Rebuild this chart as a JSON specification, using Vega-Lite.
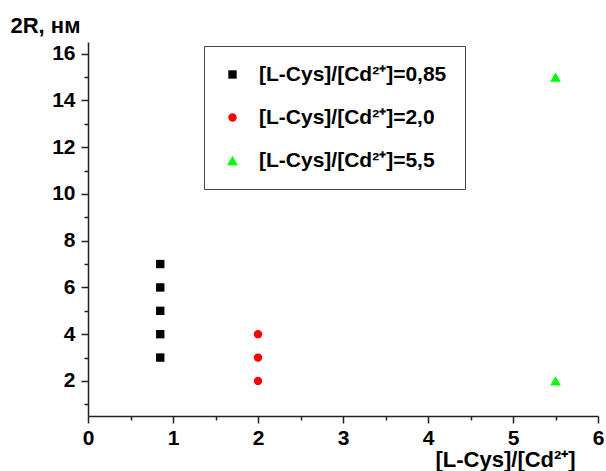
{
  "$schema": "https://vega.github.io/schema/vega-lite/v6.json",
  "autosize": "none",
  "width": 510,
  "height": 374,
  "padding": {"left": 88, "top": 42, "right": 8, "bottom": 55},
  "background": "white",
  "config": {
    "view": {"stroke": null},
    "font": "Liberation Sans",
    "axis": {
      "domainColor": "#222",
      "domainWidth": 1.5,
      "tickColor": "#222",
      "tickWidth": 1.5,
      "grid": false,
      "labelFont": "Liberation Sans",
      "labelFontWeight": "bold",
      "labelFontSize": 21,
      "labelColor": "black",
      "titleFont": "Liberation Sans",
      "titleFontWeight": "bold",
      "titleFontSize": 21,
      "titleColor": "black",
      "labelOverlap": false,
      "labelFlush": false
    }
  },
  "data": {
    "values": [
      {"ratio": 0.85, "d": 3, "series": "0,85"},
      {"ratio": 0.85, "d": 4, "series": "0,85"},
      {"ratio": 0.85, "d": 5, "series": "0,85"},
      {"ratio": 0.85, "d": 6, "series": "0,85"},
      {"ratio": 0.85, "d": 7, "series": "0,85"},
      {"ratio": 2.0, "d": 2, "series": "2,0"},
      {"ratio": 2.0, "d": 3, "series": "2,0"},
      {"ratio": 2.0, "d": 4, "series": "2,0"},
      {"ratio": 5.5, "d": 2, "series": "5,5"},
      {"ratio": 5.5, "d": 15, "series": "5,5"}
    ]
  },
  "mark": {"type": "point", "filled": true, "opacity": 1},
  "encoding": {
    "x": {
      "field": "ratio",
      "type": "quantitative",
      "scale": {"domain": [0, 6], "nice": false, "zero": false},
      "axis": {
        "values": [0, 0.5, 1, 1.5, 2, 2.5, 3, 3.5, 4, 4.5, 5, 5.5, 6],
        "labelExpr": "datum.value % 1 === 0 ? format(datum.value, 'd') : ''",
        "tickSize": {"condition": {"test": "datum.value % 1 !== 0", "value": 4}, "value": 7},
        "labelPadding": 4,
        "title": "[L-Cys]/[Cd²⁺]",
        "titleAnchor": "start",
        "titleAlign": "left",
        "titleX": 347,
        "titleY": 50,
        "titleFontSize": 22,
        "titleBaseline": "alphabetic"
      }
    },
    "y": {
      "field": "d",
      "type": "quantitative",
      "scale": {"domain": [0.5, 16.5], "nice": false, "zero": false},
      "axis": {
        "values": [1, 2, 3, 4, 5, 6, 7, 8, 9, 10, 11, 12, 13, 14, 15, 16],
        "labelExpr": "datum.value % 2 === 0 ? format(datum.value, 'd') : ''",
        "tickSize": {"condition": {"test": "datum.value % 2 !== 0", "value": 4}, "value": 7},
        "labelPadding": 6,
        "title": "2R, нм",
        "titleAngle": 0,
        "titleAlign": "left",
        "titleX": -78,
        "titleY": -10,
        "titleFontSize": 22,
        "titleBaseline": "alphabetic"
      }
    },
    "size": {
      "field": "series",
      "type": "nominal",
      "scale": {"type": "ordinal", "domain": ["0,85", "2,0", "5,5"], "range": [70, 70, 115]},
      "legend": null
    },
    "color": {
      "field": "series",
      "type": "nominal",
      "scale": {"domain": ["0,85", "2,0", "5,5"], "range": ["#000000", "#ff0000", "#00ff00"]},
      "legend": {
        "orient": "none",
        "legendX": 116,
        "legendY": 4,
        "title": null,
        "labelExpr": "'[L-Cys]/[Cd²⁺]=' + datum.label",
        "labelFont": "Liberation Sans",
        "labelFontWeight": "bold",
        "labelFontSize": 21,
        "labelColor": "black",
        "labelLimit": 400,
        "strokeColor": "#444",
        "padding": 18,
        "symbolOffset": 0,
        "labelOffset": 16,
        "rowPadding": 21,
        "symbolSize": 60
      }
    },
    "shape": {
      "field": "series",
      "type": "nominal",
      "scale": {"domain": ["0,85", "2,0", "5,5"], "range": ["square", "circle", "triangle-up"]},
      "legend": null
    }
  }
}
